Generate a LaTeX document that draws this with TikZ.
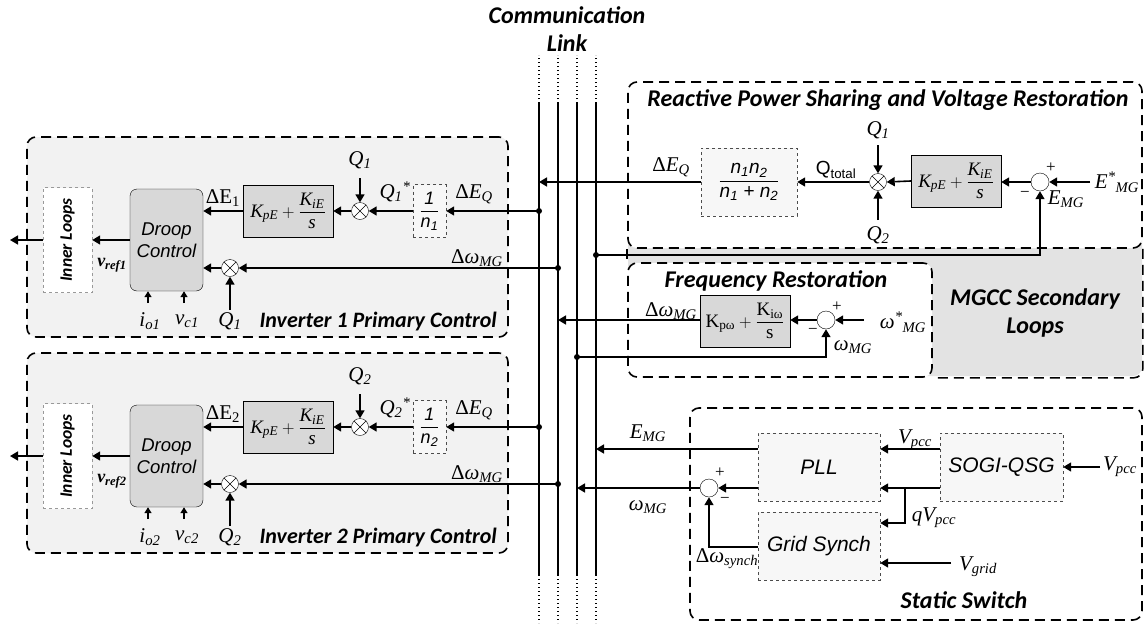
\documentclass[tikz,border=0pt]{standalone}
\usepackage{fontspec}
\setmainfont{Liberation Serif}
\newfontfamily\arialf{Liberation Sans}
\newfontfamily\calf{Carlito}
\usepackage{amsmath}
\usetikzlibrary{arrows.meta, positioning, calc}
\definecolor{regionfill}{RGB}{242,242,242}
\definecolor{mgccgray}{RGB}{227,227,227}
\definecolor{blockgray}{RGB}{216,216,216}
\definecolor{lightfill}{RGB}{247,247,247}
\tikzset{
  regionline/.style={line width=1.6pt, dash pattern=on 10pt off 6pt, rounded corners=9pt},
  region/.style={draw, regionline, inner sep=0pt},
  gainbox/.style={draw, fill=blockgray, minimum width=90pt, minimum height=52pt, inner sep=1pt,
    font=\itshape\fontsize{19}{21}\selectfont},
  dashbox/.style={draw=black!70, dashed, fill=lightfill, inner sep=1pt,
    font=\arialf\itshape\fontsize{21}{23}\selectfont},
  droopbox/.style={draw, rounded corners=7pt, fill=blockgray, minimum width=73pt, minimum height=102pt,
    align=center, font=\arialf\itshape\fontsize{18.5}{22}\selectfont},
  innerbox/.style={draw=black!40, dashed, fill=white, minimum width=49pt, minimum height=105pt, inner sep=0pt},
  mult/.style={circle, draw, fill=white, minimum size=17pt, inner sep=0pt,
    path picture={\draw (path picture bounding box.north west) -- (path picture bounding box.south east)
      (path picture bounding box.south west) -- (path picture bounding box.north east);}},
  sumnode/.style={circle, draw, fill=white, minimum size=18pt, inner sep=0pt},
  wire/.style={line width=1.6pt, -{Triangle[length=8pt,width=9pt]}},
  tinywire/.style={line width=1.4pt, -{Triangle[length=6pt,width=7pt]}},
  bus/.style={line width=1.4pt},
  junc/.style={circle, fill, inner sep=0pt, minimum size=6pt},
  lbl/.style={inner sep=0pt, font=\itshape\fontsize{21}{23}\selectfont},
  sign/.style={inner sep=0pt, font=\fontsize{17}{19}\selectfont},
  ttl/.style={inner sep=0pt, font=\calf\bfseries\itshape\fontsize{24}{28}\selectfont},
}

\begin{document}
\begin{tikzpicture}[x=1pt, y=-1pt]
\useasboundingbox (0,0) rectangle (1146,627);

\foreach \i/\dy in {1/0,2/216}{
\begin{scope}[shift={(0,\dy)}]
  \node[region, fill=regionfill, minimum width=481pt, minimum height=200pt] (inv\i) at (267.5,237) {};
  \node[ttl, anchor=east, font=\calf\bfseries\itshape\fontsize{22}{26}\selectfont] (tinv\i) at (497,322) {Inverter \i{} Primary Control};
  \node[innerbox] (inner\i) at (67.5,240) {\rotatebox{90}{\calf\bfseries\itshape\fontsize{17.5}{19}\selectfont Inner Loops}};
  \node[droopbox] (droop\i) at (166.5,240) {Droop\\Control};
  \node[gainbox] (gain\i) at (288,211) {$\text{K}_{\text{pE}}+\dfrac{\text{K}_{\text{iE}}}{\text{s}}$};
  \node[mult] (mq\i) at (360,211) {};
  \node[dashbox, minimum width=33pt, minimum height=53pt, font=\arialf\itshape\fontsize{18}{20}\selectfont]
    (ninv\i) at (429.5,211) {$\dfrac{\text{1}}{\text{n\textsubscript{\i}}}$};
  \node[mult] (mw\i) at (230,268) {};
  \node[junc] (jE\i) at (539,211) {};
  \node[junc] (jW\i) at (558,268) {};
  \coordinate (out\i) at (10,240);
  \coordinate (qa\i) at (360,178);
  \coordinate (qb\i) at (230,310);
  \coordinate (io\i) at (148,303);
  \coordinate (vc\i) at (184,303);
  \draw[wire] (inner\i.west) -- (out\i);
  \draw[wire] (droop\i.west) -- (inner\i.east);
  \draw[wire] (gain\i.west) -- (gain\i.west -| droop\i.east);
  \draw[wire] (mq\i.west) -- (gain\i.east);
  \draw[wire] (ninv\i.west) -- (mq\i.east);
  \draw[wire] (jE\i.center) -- (ninv\i.east);
  \draw[wire] (qa\i) -- (mq\i.north);
  \draw[wire] (mw\i.west) -- (mw\i.west -| droop\i.east);
  \draw[wire] (jW\i.center) -- (mw\i.east);
  \draw[wire] (qb\i) -- (mw\i.south);
  \draw[tinywire] (io\i) -- (io\i |- droop\i.south);
  \draw[tinywire] (vc\i) -- (vc\i |- droop\i.south);
  \node[lbl] (lq\i) at (360,160) {Q\textsubscript{\i}};
  \node[lbl] (lqs\i) at (395,192) {Q\textsubscript{\i}\textsuperscript{*}};
  \node[lbl] (ldq\i) at (474,194) {{\upshape Δ}E\textsubscript{Q}};
  \node[lbl] (lde\i) at (223,198) {\upshape ΔE\textsubscript{\i}};
  \node[lbl] (ldw\i) at (477,258) {{\upshape Δ}ω\textsubscript{MG}};
  \node[lbl] (lqb\i) at (230,321) {Q\textsubscript{\i}};
  \node[lbl] (lio\i) at (150,321) {i\textsubscript{o\i}};
  \node[lbl] (lvc\i) at (187,321) {v\textsubscript{c\i}};
  \node[lbl, font=\bfseries\itshape\fontsize{18}{20}\selectfont] (lvr\i) at (112,265) {v\textsubscript{ref\i}};
\end{scope}
}

\node[ttl, align=center] (comm) at (567,29) {Communication\\Link};
\foreach \n/\x in {A/539,B/558,C/577,D/596}{
  \coordinate (b\n) at (\x,103);
  \coordinate (e\n) at (\x,575);
  \draw[bus] (b\n) -- (e\n);
  \draw[bus, dash pattern=on 1.4pt off 2.6pt] (b\n) -- ++(0,-48);
  \draw[bus, dash pattern=on 1.4pt off 2.6pt] (e\n) -- ++(0,48);
}

\node[fill=mgccgray, minimum width=514pt, minimum height=294pt, inner sep=0pt, rounded corners=9pt] (mgcc) at (885,229) {};
\node[region, fill=white, minimum width=514pt, minimum height=166pt] (rps) at (885,165) {};
\node[region, fill=white, minimum width=304pt, minimum height=114pt] (freq) at (780,320) {};
\draw[regionline] (rps.south east) |- (freq.south east);
\draw[regionline] (rps.south west) -- (freq.north west);
\node[ttl] (trps) at (888,100) {Reactive Power Sharing and Voltage Restoration};
\node[ttl] (tfreq) at (776,281) {Frequency Restoration};
\node[ttl, align=center] (tmgcc) at (1035,313) {MGCC Secondary\\Loops};

\node[dashbox, minimum width=96pt, minimum height=68pt, font=\arialf\itshape\fontsize{19}{21}\selectfont] (nsum) at (749,182)
  {$\dfrac{\text{n\textsubscript{1}n\textsubscript{2}}}{\text{n\textsubscript{1} + n\textsubscript{2}}}$};
\node[mult] (mtot) at (878,182) {};
\node[gainbox] (gainE) at (956,181) {$\text{K}_{\text{pE}}+\dfrac{\text{K}_{\text{iE}}}{\text{s}}$};
\node[sumnode] (sumE) at (1040,182) {};
\node[junc] (jEmg) at (596,255) {};
\coordinate (q1top) at (878,145);
\coordinate (q2bot) at (878,220);
\coordinate (estar) at (1090,182);
\draw[wire] (nsum.west) -- (nsum.west -| bA);
\draw[wire] (mtot.west) -- (nsum.east);
\draw[wire] (q1top) -- (mtot.north);
\draw[wire] (q2bot) -- (mtot.south);
\draw[wire] (gainE.west) -- (mtot.east);
\draw[wire] (sumE.west) -- (sumE.west -| gainE.east);
\draw[wire] (estar) -- (sumE.east);
\draw[wire] (jEmg.center) -| (sumE.south);
\node[lbl] (ldeq) at (671,167) {{\upshape Δ}E\textsubscript{Q}};
\node[inner sep=0pt, font=\arialf\fontsize{19}{21}\selectfont] (lqtot) at (836,170) {Q\textsubscript{total}};
\node[lbl] (lq1) at (878,130) {Q\textsubscript{1}};
\node[lbl] (lq2) at (878,235) {Q\textsubscript{2}};
\node[lbl] (lestar) at (1117,182) {E\textsuperscript{*}\textsubscript{MG}};
\node[lbl] (lemg) at (1066,199) {E\textsubscript{MG}};
\node[sign] (pE) at (1051,168) {+};
\node[sign] (mE) at (1025,194) {−};

\node[gainbox, font=\upshape\fontsize{19}{21}\selectfont] (gainW) at (745,321) {$\text{K}_{\text{pω}}+\dfrac{\text{K}_{\text{iω}}}{\text{s}}$};
\node[sumnode] (sumW) at (826,320) {};
\node[junc] (jWmg) at (577,357) {};
\coordinate (wstar) at (864,320);
\draw[wire] (gainW.west |- sumW.west) -- (sumW.west -| bB);
\draw[wire] (sumW.west) -- (sumW.west -| gainW.east);
\draw[wire] (wstar) -- (sumW.east);
\draw[wire] (jWmg.center) -| (sumW.south);
\node[lbl] (ldw) at (671,311) {{\upshape Δ}ω\textsubscript{MG}};
\node[lbl] (lwstar) at (903,322) {ω\textsuperscript{*}\textsubscript{MG}};
\node[lbl] (lwmg) at (853,347) {ω\textsubscript{MG}};
\node[sign] (pW) at (837,307) {+};
\node[sign] (mW) at (813,331) {−};

\node[region, minimum width=452pt, minimum height=212pt] (ssw) at (916,514) {};
\node[ttl] (tssw) at (964,600) {Static Switch};
\node[dashbox, minimum width=122pt, minimum height=68pt] (pll) at (819,467) {PLL};
\node[dashbox, minimum width=123pt, minimum height=68pt] (sogi) at (1001.5,467) {SOGI-QSG};
\node[dashbox, minimum width=122pt, minimum height=68pt] (grid) at (819,546) {Grid Synch};
\node[sumnode] (sumS) at (709,488) {};
\coordinate (ePLL) at ($(pll.west)+(0,-18)$);
\coordinate (wPLL) at ($(pll.west)+(0,21)$);
\coordinate (sV) at ($(sogi.west)+(0,-18)$);
\coordinate (sQ) at ($(sogi.west)+(0,21)$);
\coordinate (br) at (905,488);
\coordinate (gW) at ($(grid.west)+(0,1)$);
\coordinate (vg) at (951,563);
\coordinate (vp) at (1100,467);
\draw[wire] (ePLL) -- (ePLL -| bD);
\draw[wire] (wPLL) -- (sumS.east);
\draw[wire] (sumS.west) -- (sumS.west -| bC);
\draw[wire] (gW) -| (sumS.south);
\draw[wire] (sV) -- (sV -| pll.east);
\draw[wire] (sQ) -- (sQ -| pll.east);
\draw[wire] (br) |- (grid.east |- 0,523);
\draw[wire] (vg) -- (vg -| grid.east);
\draw[wire] (vp) -- (sogi.east);
\node[lbl] (lemgs) at (648,433) {E\textsubscript{MG}};
\node[lbl] (lwmgs) at (648,507) {ω\textsubscript{MG}};
\node[lbl] (lvpcc) at (915,440) {V\textsubscript{pcc}};
\node[lbl] (lqv) at (934,518) {qV\textsubscript{pcc}};
\node[lbl] (lvg) at (978,567) {V\textsubscript{grid}};
\node[lbl] (lvin) at (1120,467) {V\textsubscript{pcc}};
\node[lbl] (lsyn) at (727,559) {{\upshape Δ}ω\textsubscript{synch}};
\node[sign] (pS) at (720,473) {+};
\node[sign] (mS) at (725,500) {−};
\end{tikzpicture}
\end{document}
